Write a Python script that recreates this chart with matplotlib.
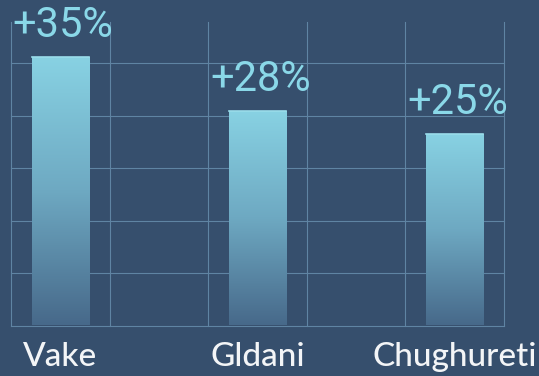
import matplotlib.pyplot as plt
import numpy as np
from matplotlib.colors import LinearSegmentedColormap

# District growth figures
districts = ["Vake", "Gldani", "Chughureti"]
growth = [35, 28, 25]
value_labels = ["+35%", "+28%", "+25%"]

BG = "#364f6d"
BAR_TOP = "#88d2e3"
BAR_BOTTOM = "#47698a"
GRID = "#5f84a3"
LABEL = "#8ad8e8"

fig = plt.figure(figsize=(5.39, 3.76), dpi=100, facecolor=BG)
ax = fig.add_axes([11 / 539, 50.5 / 376, 493 / 539, 303.5 / 376])
ax.set_facecolor(BG)

x = np.arange(len(districts)) * 2
y_max = 39.6
grid_step = 6.85

# decorative grid: one column per half-slot, rows every grid_step
ax.set_xticks(np.arange(-0.5, 5, 1))
ax.set_yticks(np.arange(0, y_max, grid_step))
ax.grid(True, color=GRID, lw=0.8, zorder=0)
for gl in ax.get_xgridlines() + ax.get_ygridlines():
    gl.set_clip_on(False)
ax.tick_params(length=0, labelbottom=False, labelleft=False)
for s in ax.spines.values():
    s.set_visible(False)

cmap = LinearSegmentedColormap.from_list("fade", [BAR_BOTTOM, "#6ea9c2", BAR_TOP])
grad = np.linspace(0, 1, 256).reshape(-1, 1)

bars = ax.bar(x, growth, width=0.58, color="none", zorder=2)
for rect, lbl in zip(bars, value_labels):
    x0, w, h = rect.get_x(), rect.get_width(), rect.get_height()
    im = ax.imshow(grad, cmap=cmap, origin="lower", aspect="auto",
                   extent=[x0, x0 + w, 0, h], zorder=2)
    im.set_clip_path(rect)
    ax.plot([x0, x0 + w], [h, h], color="#9adcea", lw=1.2, zorder=3)
    ax.annotate(lbl, (x0 + w / 2, h), xytext=(2, 14.4), textcoords="offset points",
                ha="center", va="baseline", fontsize=30, family="Roboto",
                color=LABEL, annotation_clip=False)

for xi, name in zip(x, districts):
    ax.text(xi, -0.1334, name, transform=ax.get_xaxis_transform(), ha="center",
            va="baseline", fontsize=24, family="Lato", fontweight="medium",
            color="#f3f5f7")

ax.set_xlim(-0.5, 4.5)
ax.set_ylim(0, y_max)

fig.savefig("out.png", dpi=100, facecolor=BG)
